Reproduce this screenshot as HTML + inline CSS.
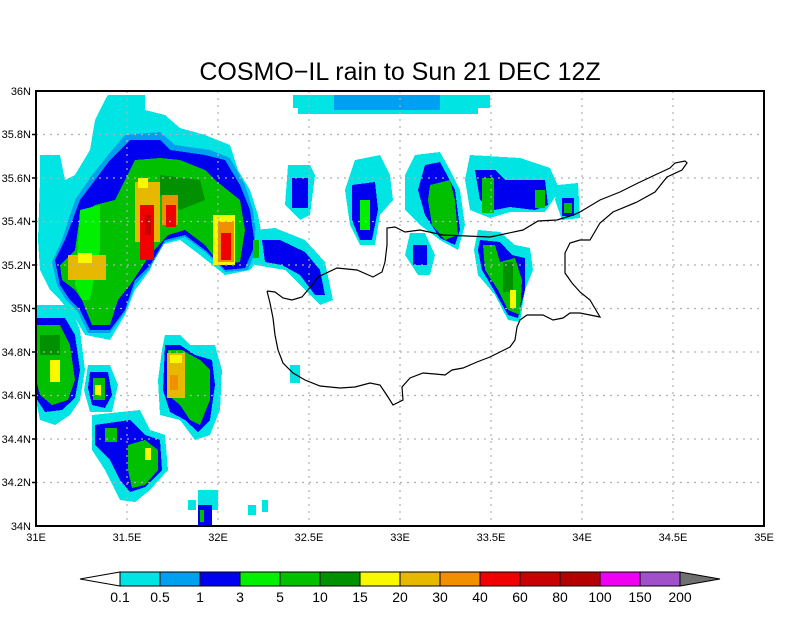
<!DOCTYPE html>
<html><head><meta charset="utf-8"><style>
body{margin:0;background:#fff;}
svg{display:block;font-family:"Liberation Sans",sans-serif;}
</style></head><body>
<svg width="800" height="618" viewBox="0 0 800 618" xmlns="http://www.w3.org/2000/svg">
<rect width="800" height="618" fill="#fff"/>
<text x="400" y="80" font-size="25" text-anchor="middle" fill="#000">COSMO−IL rain to Sun 21 DEC 12Z</text>
<g shape-rendering="crispEdges">
<!-- top band -->
<rect x="293" y="95" width="197" height="13" fill="#00e4e4"/>
<rect x="298" y="108" width="180" height="6" fill="#00e4e4"/>
<rect x="334" y="95" width="106" height="15" fill="#00a0f0"/>
<!-- big NW blob -->
<polygon fill="#00e4e4" points="108,95 145,95 145,110 165,115 180,128 205,135 230,145 238,170 250,190 258,215 262,235 258,260 250,270 225,275 200,255 180,240 160,245 150,270 135,290 125,315 110,340 85,335 75,318 60,300 50,290 40,270 38,240 40,180 40,155 60,155 65,180 75,175 90,150 95,120 105,100"/>
<polygon fill="#00a0f0" points="125,135 160,132 175,145 210,150 230,158 245,185 253,210 258,245 248,270 225,272 205,252 185,237 165,242 150,268 135,285 125,312 110,333 88,333 78,312 66,300 57,285 52,262 62,240 75,200 90,178 108,155"/>
<polygon fill="#0000f0" points="130,140 160,140 170,150 205,155 225,160 240,185 250,210 255,245 245,268 225,270 205,250 185,235 165,240 150,265 135,280 125,310 110,330 90,330 80,310 70,300 60,285 55,260 65,240 80,200 95,180 110,160"/>
<polygon fill="#00c000" points="135,160 160,158 180,160 205,170 215,180 240,200 245,230 240,262 220,265 205,245 185,230 168,235 150,255 140,270 130,285 118,300 110,325 92,325 82,300 75,290 62,280 60,265 75,250 80,215 95,205 115,200 125,180"/>
<polygon fill="#00f000" points="80,210 100,205 100,250 90,300 82,300 75,285 78,240"/>
<polygon fill="#009000" points="160,175 200,180 205,200 180,210 160,195"/>
<rect x="135" y="182" width="25" height="60" fill="#e6b800"/>
<rect x="138" y="178" width="10" height="10" fill="#f8f800"/>
<rect x="140" y="205" width="14" height="55" fill="#f00000"/>
<rect x="145" y="215" width="6" height="20" fill="#c80000"/>
<rect x="162" y="195" width="16" height="30" fill="#f09000"/>
<rect x="166" y="205" width="10" height="22" fill="#f00000"/>
<rect x="213" y="215" width="22" height="50" fill="#f8f800"/>
<rect x="218" y="222" width="16" height="40" fill="#f09000"/>
<rect x="221" y="233" width="10" height="27" fill="#f00000"/>
<rect x="68" y="255" width="38" height="25" fill="#e6b800"/>
<rect x="78" y="253" width="14" height="10" fill="#f8f800"/>
<!-- left middle blob -->
<polygon fill="#00e4e4" points="36,305 70,305 80,330 85,370 80,400 70,415 55,425 40,420 36,400"/>
<polygon fill="#0000f0" points="36,318 65,318 75,335 80,370 75,398 62,410 45,412 36,398"/>
<polygon fill="#00c000" points="36,325 60,325 70,345 75,380 68,400 52,405 40,395 36,380"/>
<rect x="40" y="335" width="20" height="20" fill="#009000"/>
<rect x="50" y="360" width="10" height="22" fill="#f8f800"/>
<!-- C -->
<polygon fill="#00e4e4" points="88,365 110,365 118,385 112,412 90,412 84,390"/>
<polygon fill="#0000f0" points="90,372 108,372 112,395 105,408 92,405 88,388"/>
<rect x="93" y="378" width="12" height="22" fill="#00c000"/>
<rect x="95" y="385" width="6" height="10" fill="#f8f800"/>
<!-- D bottom-left -->
<polygon fill="#00e4e4" points="92,415 140,410 150,430 165,435 168,470 150,490 135,502 120,500 105,470 92,450"/>
<polygon fill="#0000f0" points="95,425 130,420 145,435 160,440 162,470 145,487 130,492 120,480 110,460 95,445"/>
<polygon fill="#00c000" points="128,445 145,440 158,450 158,470 145,485 132,488 128,470"/>
<rect x="105" y="428" width="12" height="14" fill="#00c000"/>
<rect x="145" y="448" width="6" height="12" fill="#f8f800"/>
<!-- E middle -->
<polygon fill="#00e4e4" points="165,335 180,335 190,345 215,345 222,370 220,410 210,435 195,440 180,420 160,415 158,380 162,350"/>
<polygon fill="#0000f0" points="165,345 180,345 195,355 212,360 215,385 210,420 198,432 185,420 170,412 163,390"/>
<polygon fill="#00c000" points="168,350 182,350 200,360 210,370 210,400 200,425 190,420 180,405 168,395"/>
<rect x="167" y="353" width="18" height="45" fill="#e6b800"/>
<rect x="170" y="355" width="12" height="8" fill="#f8f800"/>
<rect x="170" y="375" width="8" height="15" fill="#f09000"/>
<!-- F -->
<rect x="198" y="490" width="20" height="20" fill="#00e4e4"/>
<rect x="198" y="505" width="14" height="21" fill="#0000f0"/>
<rect x="200" y="510" width="4" height="12" fill="#00c000"/>
<rect x="290" y="365" width="10" height="18" fill="#00e4e4"/>
<rect x="262" y="500" width="6" height="12" fill="#00e4e4"/>
<rect x="188" y="500" width="8" height="10" fill="#00e4e4"/>
<rect x="248" y="505" width="8" height="10" fill="#00e4e4"/>
<!-- small blobs row -->
<polygon fill="#00e4e4" points="288,165 310,165 315,175 310,215 300,220 285,205"/>
<rect x="292" y="178" width="16" height="30" fill="#0000f0"/>
<polygon fill="#00e4e4" points="355,160 380,155 390,175 393,200 380,215 375,245 360,245 350,225 345,190"/>
<polygon fill="#0000f0" points="352,185 375,182 378,210 372,240 360,240 352,220"/>
<rect x="360" y="200" width="10" height="30" fill="#00f000"/>
<polygon fill="#00e4e4" points="415,155 440,152 450,170 460,190 465,225 458,250 440,240 420,225 405,210 405,175"/>
<polygon fill="#0000f0" points="425,165 440,162 455,190 460,230 455,245 440,238 425,215 418,190"/>
<polygon fill="#00c000" points="430,185 450,180 455,200 458,235 445,240 432,225 428,200"/>
<polygon fill="#00e4e4" points="470,155 520,158 550,168 560,190 545,212 510,212 490,218 470,210 465,180"/>
<polygon fill="#0000f0" points="475,170 495,170 505,180 545,180 548,205 535,210 510,207 495,210 480,200"/>
<rect x="482" y="178" width="12" height="35" fill="#00c000"/>
<rect x="535" y="190" width="10" height="18" fill="#00c000"/>
<polygon fill="#00e4e4" points="558,185 578,183 580,218 562,220 555,200"/>
<rect x="562" y="198" width="12" height="18" fill="#0000f0"/>
<rect x="564" y="203" width="8" height="10" fill="#00c000"/>
<polygon fill="#00e4e4" points="255,230 275,228 305,240 325,262 333,300 320,305 305,290 285,270 255,265"/>
<polygon fill="#0000f0" points="262,240 280,240 305,252 320,270 325,295 315,295 300,275 282,265 265,262"/>
<rect x="253" y="240" width="6" height="18" fill="#00c000"/>
<polygon fill="#00e4e4" points="410,233 425,233 435,255 430,275 418,275 405,255"/>
<rect x="413" y="245" width="14" height="20" fill="#0000f0"/>
<polygon fill="#00e4e4" points="478,230 500,232 515,245 530,248 533,270 525,290 520,322 508,320 495,295 478,275 474,250"/>
<polygon fill="#0000f0" points="480,240 500,242 512,255 525,258 525,290 518,318 508,315 495,292 482,270 478,250"/>
<polygon fill="#00c000" points="483,245 495,245 500,262 515,258 522,280 520,315 508,310 498,290 485,270"/>
<rect x="503" y="262" width="10" height="30" fill="#009000"/>
<rect x="510" y="290" width="6" height="18" fill="#f8f800"/>
</g>
<!-- grid -->
<g stroke="#b0b0b0" stroke-width="1.2" stroke-dasharray="2,5">
<line x1="127" y1="91" x2="127" y2="526"/><line x1="218" y1="91" x2="218" y2="526"/><line x1="309" y1="91" x2="309" y2="526"/>
<line x1="400" y1="91" x2="400" y2="526"/><line x1="491" y1="91" x2="491" y2="526"/><line x1="582" y1="91" x2="582" y2="526"/><line x1="673" y1="91" x2="673" y2="526"/>
<line x1="36" y1="134.5" x2="764" y2="134.5"/><line x1="36" y1="178" x2="764" y2="178"/><line x1="36" y1="221.5" x2="764" y2="221.5"/>
<line x1="36" y1="265" x2="764" y2="265"/><line x1="36" y1="308.5" x2="764" y2="308.5"/><line x1="36" y1="352" x2="764" y2="352"/>
<line x1="36" y1="395.5" x2="764" y2="395.5"/><line x1="36" y1="439" x2="764" y2="439"/><line x1="36" y1="482.5" x2="764" y2="482.5"/>
</g>
<!-- coastline -->
<polyline fill="none" stroke="#000" stroke-width="1.2" points="267,291 275,292 283,298 292,300 302,297 312,285 318,277 337,268 357,270 373,277 382,272 385,262 387,245 387,228 395,227 405,232 420,230 443,235 490,237 523,230 538,221 557,220 573,215 580,212 600,200 620,192 638,183 655,175 670,168 675,163 685,161 687,163 682,170 667,177 655,192 637,202 613,212 600,223 590,240 580,240 570,243 565,253 565,273 572,283 580,292 590,300 600,317 580,313 570,313 563,318 553,320 543,315 527,315 520,320 517,327 515,340 510,347 498,353 490,357 477,362 463,368 452,370 445,375 435,374 423,373 410,378 402,387 403,400 393,405 388,397 380,385 370,383 355,387 340,388 320,386 305,380 293,373 283,363 278,350 275,335 273,318 270,303 267,291"/>
<!-- frame -->
<rect x="36" y="91" width="728" height="435" fill="none" stroke="#000" stroke-width="2"/>
<g stroke="#000" stroke-width="1.5">
<line x1="32" y1="134.5" x2="36" y2="134.5"/><line x1="32" y1="178" x2="36" y2="178"/><line x1="32" y1="221.5" x2="36" y2="221.5"/><line x1="32" y1="265" x2="36" y2="265"/><line x1="32" y1="308.5" x2="36" y2="308.5"/><line x1="32" y1="352" x2="36" y2="352"/><line x1="32" y1="395.5" x2="36" y2="395.5"/><line x1="32" y1="439" x2="36" y2="439"/><line x1="32" y1="482.5" x2="36" y2="482.5"/>
</g>
<g font-size="11" text-anchor="end" fill="#000">
<text x="31" y="95">36N</text><text x="31" y="138">35.8N</text><text x="31" y="182">35.6N</text><text x="31" y="225">35.4N</text><text x="31" y="269">35.2N</text><text x="31" y="312">35N</text><text x="31" y="356">34.8N</text><text x="31" y="399">34.6N</text><text x="31" y="443">34.4N</text><text x="31" y="486">34.2N</text><text x="31" y="530">34N</text>
</g>
<g font-size="11" text-anchor="middle" fill="#000">
<text x="36" y="541">31E</text><text x="127" y="541">31.5E</text><text x="218" y="541">32E</text><text x="309" y="541">32.5E</text><text x="400" y="541">33E</text><text x="491" y="541">33.5E</text><text x="582" y="541">34E</text><text x="673" y="541">34.5E</text><text x="764" y="541">35E</text>
</g>
<!-- colorbar -->
<g stroke="#000" stroke-width="1">
<polygon points="80,579 120,572 120,586" fill="#fff"/>
<rect x="120" y="572" width="40" height="14" fill="#00e4e4"/>
<rect x="160" y="572" width="40" height="14" fill="#00a0f0"/>
<rect x="200" y="572" width="40" height="14" fill="#0000f0"/>
<rect x="240" y="572" width="40" height="14" fill="#00f000"/>
<rect x="280" y="572" width="40" height="14" fill="#00c000"/>
<rect x="320" y="572" width="40" height="14" fill="#009000"/>
<rect x="360" y="572" width="40" height="14" fill="#f8f800"/>
<rect x="400" y="572" width="40" height="14" fill="#e6b800"/>
<rect x="440" y="572" width="40" height="14" fill="#f09000"/>
<rect x="480" y="572" width="40" height="14" fill="#f00000"/>
<rect x="520" y="572" width="40" height="14" fill="#c80000"/>
<rect x="560" y="572" width="40" height="14" fill="#b40000"/>
<rect x="600" y="572" width="40" height="14" fill="#f000f0"/>
<rect x="640" y="572" width="40" height="14" fill="#a050c8"/>
<polygon points="680,572 720,579 680,586" fill="#707070"/>
</g>
<g font-size="14" text-anchor="middle" fill="#000">
<text x="120" y="602">0.1</text><text x="160" y="602">0.5</text><text x="200" y="602">1</text><text x="240" y="602">3</text><text x="280" y="602">5</text><text x="320" y="602">10</text><text x="360" y="602">15</text><text x="400" y="602">20</text><text x="440" y="602">30</text><text x="480" y="602">40</text><text x="520" y="602">60</text><text x="560" y="602">80</text><text x="600" y="602">100</text><text x="640" y="602">150</text><text x="680" y="602">200</text>
</g>
</svg>
</body></html>
